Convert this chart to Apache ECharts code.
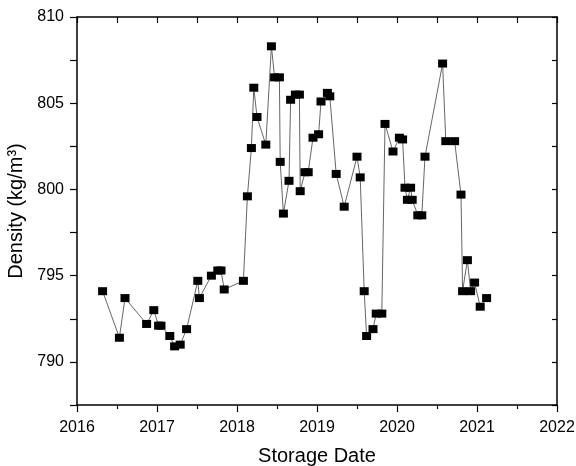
<!DOCTYPE html>
<html>
<head>
<meta charset="utf-8">
<script src="https://cdn.jsdelivr.net/npm/echarts@6/dist/echarts.min.js"></script>
<style>
  html, body { margin: 0; padding: 0; background: #fff; }
  #chart { width: 576px; height: 466px; }
</style>
</head>
<body>
<div id="chart"></div>
<script>
// storage date as decimal year, density in kg/m3
const dates = [
  2016.32, 2016.53, 2016.60, 2016.87, 2016.96, 2017.02, 2017.05, 2017.16, 2017.22, 2017.29,
  2017.37, 2017.51, 2017.53, 2017.68, 2017.76, 2017.80, 2017.84, 2018.08, 2018.13, 2018.18,
  2018.21, 2018.25, 2018.36, 2018.43, 2018.47, 2018.53, 2018.54, 2018.58, 2018.65, 2018.67,
  2018.73, 2018.78, 2018.79, 2018.85, 2018.89, 2018.95, 2019.02, 2019.05, 2019.13, 2019.16,
  2019.24, 2019.34, 2019.50, 2019.54, 2019.59, 2019.62, 2019.70, 2019.74, 2019.81, 2019.85,
  2019.95, 2020.03, 2020.07, 2020.10, 2020.13, 2020.17, 2020.19, 2020.26, 2020.31, 2020.35,
  2020.57, 2020.61, 2020.72, 2020.80, 2020.82, 2020.88, 2020.92, 2020.97, 2021.04, 2021.12
]
const density = [
  794.1, 791.4, 793.7, 792.2, 793.0, 792.1, 792.1, 791.5, 790.9, 791.0,
  791.9, 794.7, 793.7, 795.0, 795.3, 795.3, 794.2, 794.7, 799.6, 802.4,
  805.9, 804.2, 802.6, 808.3, 806.5, 806.5, 801.6, 798.6, 800.5, 805.2,
  805.5, 805.5, 799.9, 801.0, 801.0, 803.0, 803.2, 805.1, 805.6, 805.4,
  800.9, 799.0, 801.9, 800.7, 794.1, 791.5, 791.9, 792.8, 792.8, 803.8,
  802.2, 803.0, 802.9, 800.1, 799.4, 800.1, 799.4, 798.5, 798.5, 801.9,
  807.3, 802.8, 802.8, 799.7, 794.1, 795.9, 794.1, 794.6, 793.2, 793.7
]

const xRange = { min: 2016, max: 2022 }
const yRange = { min: 787.5, max: 810 }

const font = 'Liberation Sans, Arial, sans-serif'
const axisLine = { show: true, onZero: false, lineStyle: { color: '#000', width: 1.5 } }

const chart = echarts.init(document.getElementById('chart'), null, { renderer: 'canvas' })

const option = {
  backgroundColor: '#fff',
  animation: false,
  grid: { left: 77, right: 19, top: 17, bottom: 61, outerBoundsMode: 'none', containLabel: false },
  xAxis: [
    {
      type: 'value', position: 'bottom', ...xRange, interval: 1,
      name: 'Storage Date', nameLocation: 'middle', nameGap: 41,
      nameTextStyle: { fontFamily: font, fontSize: 20, color: '#000' },
      axisLine,
      axisTick: { show: true, inside: false, length: 7, lineStyle: { color: '#000', width: 1.2 } },
      minorTick: { show: true, splitNumber: 2, length: 4, lineStyle: { color: '#000', width: 1.2 } },
      axisLabel: { fontFamily: font, fontSize: 16, color: '#000', margin: 15, formatter: v => String(Math.round(v)) },
      splitLine: { show: false }
    },
    {
      type: 'value', position: 'top', ...xRange, interval: 0.5,
      axisLine,
      axisTick: { show: true, inside: true, length: 6, lineStyle: { color: '#000', width: 1.2 } },
      axisLabel: { show: false },
      splitLine: { show: false }
    }
  ],
  yAxis: [
    {
      type: 'value', position: 'left', ...yRange, interval: 2.5,
      name: 'Density (kg/m³)', nameLocation: 'middle', nameGap: 50, nameRotate: 90,
      nameTextStyle: { fontFamily: font, fontSize: 20, color: '#000' },
      axisLine,
      axisTick: { show: true, inside: false, length: 7, lineStyle: { color: '#000', width: 1.2 } },
      axisLabel: {
        fontFamily: font, fontSize: 16, color: '#000', margin: 13,
        formatter: v => (v % 5 === 0 ? String(v) : '')
      },
      splitLine: { show: false }
    },
    {
      type: 'value', position: 'right', ...yRange, interval: 2.5,
      axisLine,
      axisTick: { show: true, inside: true, length: 5, lineStyle: { color: '#000', width: 1.2 } },
      axisLabel: { show: false },
      splitLine: { show: false }
    }
  ],
  series: [
    {
      type: 'line',
      data: dates.map((d, i) => [d, density[i]]),
      symbol: 'rect',
      symbolSize: [9, 8],
      itemStyle: { color: '#000' },
      lineStyle: { color: '#666', width: 1 },
      z: 3
    }
  ]
}

chart.setOption(option)
</script>
</body>
</html>
